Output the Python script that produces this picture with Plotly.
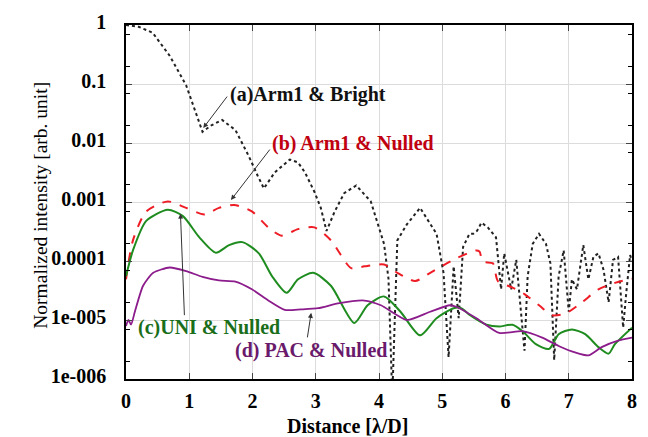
import plotly.graph_objects as go

# (a) Arm1 & Bright
a_x = [0.0, 0.2, 0.42, 0.69, 0.95, 1.11, 1.21, 1.35, 1.52, 1.73, 1.94, 2.08, 2.18, 2.35, 2.59, 2.72, 2.83, 2.98, 3.08, 3.17, 3.30, 3.45, 3.64, 3.87, 4.08, 4.15, 4.21, 4.29, 4.44, 4.65, 4.91, 5.02, 5.10, 5.18, 5.26, 5.33, 5.43, 5.49, 5.55, 5.62, 5.72, 5.85, 5.93, 5.98, 6.09, 6.17, 6.30, 6.35, 6.43, 6.53, 6.64, 6.71, 6.77, 6.84, 6.92, 7.00, 7.05, 7.13, 7.23, 7.31, 7.39, 7.47, 7.55, 7.63, 7.70, 7.78, 7.86, 7.91, 7.97, 8.0]
a_log = [0.0, -0.03, -0.13, -0.52, -1.02, -1.51, -1.81, -1.70, -1.61, -1.78, -2.22, -2.55, -2.77, -2.50, -2.28, -2.33, -2.50, -2.83, -3.10, -3.49, -3.16, -2.85, -2.72, -2.99, -3.71, -4.3, -6.3, -3.65, -3.38, -3.10, -3.54, -4.2, -5.63, -4.09, -4.97, -3.76, -3.54, -3.54, -3.49, -3.35, -3.43, -3.60, -4.48, -3.87, -4.48, -3.98, -5.52, -4.26, -3.71, -3.54, -3.71, -4.04, -5.68, -4.26, -3.82, -4.86, -4.31, -4.48, -3.73, -4.31, -3.93, -3.87, -4.15, -4.70, -3.98, -3.93, -5.13, -4.53, -3.90, -4.0]

# (b) Arm1 & Nulled
b_x = [0.0, 0.11, 0.32, 0.66, 0.95, 1.24, 1.47, 1.71, 1.99, 2.25, 2.46, 2.72, 2.98, 3.24, 3.56, 3.77, 4.08, 4.29, 4.57, 4.81, 5.07, 5.23, 5.54, 5.59, 5.64, 5.80, 5.88, 6.11, 6.30, 6.53, 6.74, 6.95, 7.21, 7.47, 7.73, 8.0]
b_log = [-4.31, -3.65, -3.16, -2.99, -3.10, -3.21, -3.10, -3.05, -3.16, -3.43, -3.57, -3.46, -3.43, -3.65, -4.12, -4.09, -4.06, -4.20, -4.34, -4.20, -4.04, -3.95, -3.82, -3.84, -4.01, -4.04, -4.34, -4.45, -4.56, -4.75, -4.92, -4.89, -4.70, -4.48, -4.37, -4.30]

# (c) UNI & Nulled
c_x = [0.0, 0.11, 0.32, 0.66, 0.90, 1.16, 1.42, 1.63, 1.84, 2.10, 2.31, 2.54, 2.72, 2.96, 3.24, 3.61, 3.82, 4.08, 4.34, 4.65, 4.91, 5.18, 5.30, 5.44, 5.70, 5.90, 6.11, 6.27, 6.48, 6.69, 6.84, 7.05, 7.26, 7.47, 7.63, 7.73, 8.0]
c_log = [-4.26, -3.82, -3.32, -3.13, -3.24, -3.60, -3.86, -3.73, -3.68, -3.87, -4.26, -4.54, -4.31, -4.20, -4.42, -5.05, -4.75, -4.60, -4.86, -5.26, -4.97, -4.80, -4.80, -4.92, -5.08, -5.11, -5.08, -5.19, -5.41, -5.49, -5.24, -5.16, -5.24, -5.46, -5.57, -5.41, -5.13]

# (d) PAC & Nulled
d_x = [0.0, 0.04, 0.08, 0.14, 0.27, 0.43, 0.69, 0.95, 1.21, 1.47, 1.73, 1.99, 2.25, 2.51, 2.77, 3.04, 3.35, 3.77, 4.03, 4.44, 4.81, 5.12, 5.23, 5.54, 5.90, 6.27, 6.58, 6.84, 7.10, 7.31, 7.52, 7.78, 8.0]
d_log = [-5.10, -5.00, -5.08, -4.86, -4.42, -4.20, -4.11, -4.17, -4.27, -4.33, -4.35, -4.48, -4.67, -4.83, -4.82, -4.80, -4.72, -4.67, -4.75, -5.00, -4.86, -4.75, -4.78, -4.97, -5.22, -5.19, -5.30, -5.44, -5.55, -5.60, -5.46, -5.35, -5.30]

y_tickvals = [1, 0.1, 0.01, 0.001, 0.0001, 1e-5, 1e-6]
y_ticktext = ["1", "0.1", "0.01", "0.001", "0.0001", "1e-005", "1e-006"]
x_tickvals = [0, 1, 2, 3, 4, 5, 6, 7, 8]

def lin(v):
    return [10 ** p for p in v]

FONT = "Liberation Serif"

fig = go.Figure()
fig.add_trace(go.Scatter(x=a_x, y=lin(a_log), mode="lines",
                         line=dict(color="#222222", width=2, dash="dot")))
fig.add_trace(go.Scatter(x=b_x, y=lin(b_log), mode="lines",
                         line=dict(color="#ee1c25", width=2, dash="dash", shape="spline", smoothing=0.7)))
fig.add_trace(go.Scatter(x=c_x, y=lin(c_log), mode="lines",
                         line=dict(color="#1f8c1f", width=2, shape="spline", smoothing=0.7)))
fig.add_trace(go.Scatter(x=d_x, y=lin(d_log), mode="lines",
                         line=dict(color="#8c1c8c", width=1.8, shape="spline", smoothing=0.6)))

minor_vals = []
for k in range(-6, 0):
    minor_vals += [2 * 10 ** k, 7 * 10 ** k]

TICKFONT = dict(family=FONT, size=20, color="black", weight="bold")
fig.update_layout(
    width=648, height=437,
    margin=dict(l=126, r=11, t=15, b=58),
    paper_bgcolor="white", plot_bgcolor="white",
    showlegend=False,
    font=dict(family=FONT, size=18, color="black"),
    xaxis=dict(range=[0, 8], tickvals=x_tickvals, ticks="inside", ticklen=6,
               ticklabelstandoff=3, ticklabeloverflow="allow",
               showline=True, linecolor="black", linewidth=1.5, mirror="ticks",
               showgrid=True, gridcolor="#dcdcdc", gridwidth=1, zeroline=False,
               tickfont=TICKFONT),
    yaxis=dict(type="log", range=[-6, 0], tickvals=y_tickvals, ticktext=y_ticktext,
               ticks="inside", ticklen=6, ticklabelshift=-3, ticklabelstandoff=14,
               ticklabeloverflow="allow",
               showline=True, linecolor="black", linewidth=1.5, mirror="ticks",
               showgrid=True, gridcolor="#dcdcdc", gridwidth=1, zeroline=False,
               minor=dict(tickvals=minor_vals, ticks="inside", ticklen=4, tickcolor="black", showgrid=False),
               tickfont=TICKFONT),
)

W, H = 648, 437
L, R, T, B = 126, 11, 15, 58
pw, ph = W - L - R, H - T - B
def px2p(px, py):
    return (px - L) / pw, 1 - (py - T) / ph

ann_font = dict(family=FONT, size=20, weight="bold")
annots = [
    ("(a)Arm1 & Bright", "#111111", 229, 86),
    ("(b) Arm1 & Nulled", "#c00010", 271, 137),
    ("(c)UNI & Nulled", "#1a6e1a", 136, 326),
    ("(d) PAC & Nulled", "#6a1a6a", 234, 350),
]
for text, col, tx, ty in annots:
    xp, yp = px2p(tx, ty)
    fig.add_annotation(x=xp, y=yp, xref="paper", yref="paper", text=text,
                       showarrow=False, xanchor="left", yanchor="middle",
                       font=dict(color=col, **ann_font))

# arrows (pointer lines): tail -> head in pixels
arrows = [
    (229, 88, 204, 121),
    (272, 143, 232, 195),
    (185, 312, 181, 209),
    (309, 337, 313, 311),
]
for x0, y0, x1, y1 in arrows:
    hx, hy = px2p(x1, y1)
    fig.add_annotation(x=hx, y=hy, xref="paper", yref="paper",
                       ax=x0 - x1, ay=y0 - y1, axref="pixel", ayref="pixel",
                       text="", showarrow=True, arrowhead=2, arrowsize=1,
                       arrowwidth=1, arrowcolor="#333333", standoff=0)

xp, yp = px2p(350, 427)
fig.add_annotation(x=xp, y=yp, xref="paper", yref="paper", text="Distance [λ/D]",
                   showarrow=False, xanchor="center", yanchor="middle",
                   font=dict(family=FONT, size=20, weight="bold", color="black"))
xp, yp = px2p(40, 200)
fig.add_annotation(x=xp, y=yp, xref="paper", yref="paper", text="Normalized intensity [arb. unit]",
                   showarrow=False, textangle=-90, xanchor="center", yanchor="middle",
                   font=dict(family=FONT, size=19.5, color="black"))

fig.write_html("out.html")
